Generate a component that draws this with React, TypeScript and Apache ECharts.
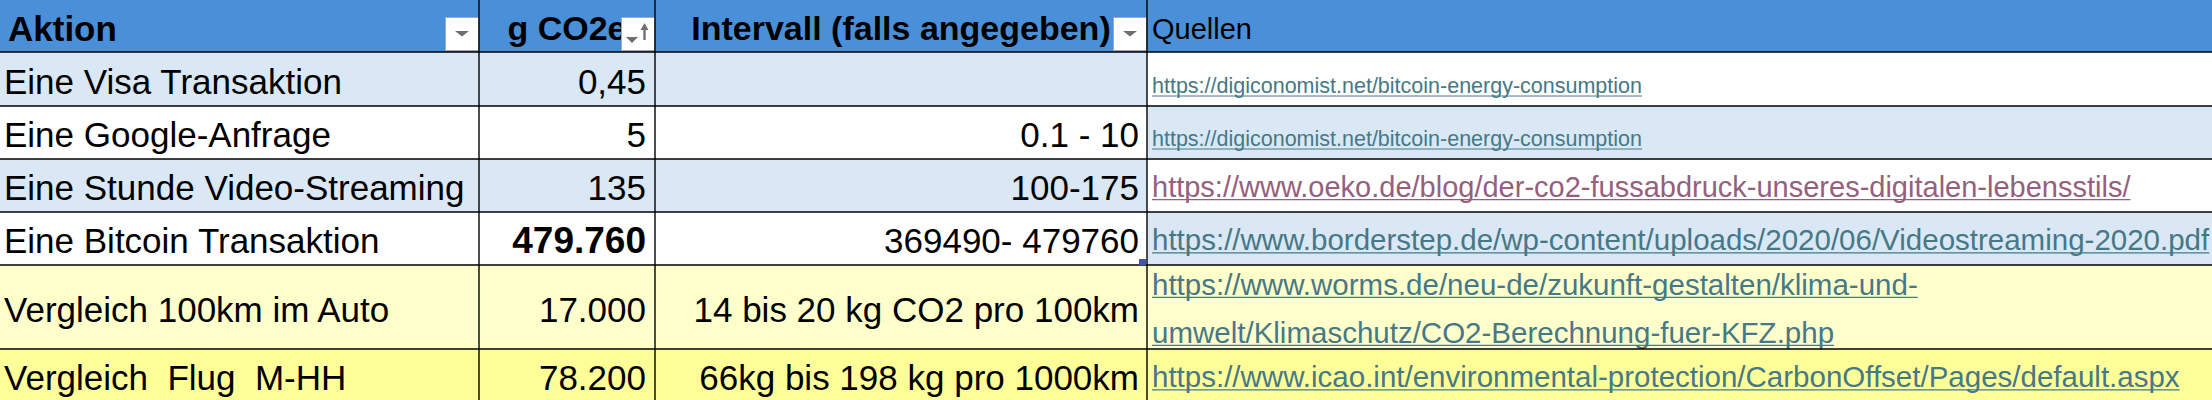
import { useEffect, useRef } from "react";
import * as echarts from "echarts";

// table content
const headers = ["Aktion", "g CO2e", "Intervall (falls angegeben)", "Quellen"];
const actions = [
	"Eine Visa Transaktion",
	"Eine Google-Anfrage",
	"Eine Stunde Video-Streaming",
	"Eine Bitcoin Transaktion",
	"Vergleich 100km im Auto",
	"Vergleich  Flug  M-HH",
];
const co2Grams = [0.45, 5, 135, 479760, 17000, 78200];
const intervals = [
	"",
	"0.1 - 10",
	"100-175",
	"369490- 479760",
	"14 bis 20 kg CO2 pro 100km",
	"66kg bis 198 kg pro 1000km",
];
const sources = [
	"https://digiconomist.net/bitcoin-energy-consumption",
	"https://digiconomist.net/bitcoin-energy-consumption",
	"https://www.oeko.de/blog/der-co2-fussabdruck-unseres-digitalen-lebensstils/",
	"https://www.borderstep.de/wp-content/uploads/2020/06/Videostreaming-2020.pdf",
	"https://www.worms.de/neu-de/zukunft-gestalten/klima-und-\numwelt/Klimaschutz/CO2-Berechnung-fuer-KFZ.php",
	"https://www.icao.int/environmental-protection/CarbonOffset/Pages/default.aspx",
];
const visitedLinks = [false, false, true, false, false, false];
const boldValues = [false, false, false, true, false, false];

// layout + styles
const colEdges = [0, 479, 655, 1147, 2212];
const rowEdges = [0, 52, 106, 159, 212, 265, 349, 402];
const rowFill = ["#dae8f6", "#ffffff", "#dae8f6", "#ffffff", "#ffffcc", "#ffff99"];
const sourceFill = ["#ffffff", "#dae8f6", "#ffffff", "#dae8f6", "#ffffcc", "#ffff99"];
const linkSize = [21.5, 21.5, 29, 29.5, 29.5, 29.5];

const FONT = "'Liberation Sans', Arial, Helvetica, sans-serif";
const HEADER_BLUE = "#4a90d9";
const LINK = "#467886";
const LINK_VISITED = "#96607d";
const MAIN_SIZE = 35;
const HEADER_SIZE = 34;

const numberFormat = new Intl.NumberFormat("de-DE", { maximumFractionDigits: 2 });

let measureCtx: CanvasRenderingContext2D | null = null;
const textWidth = (text: string, size: number, weight = "normal") => {
	if (!measureCtx) measureCtx = document.createElement("canvas").getContext("2d");
	if (!measureCtx) return text.length * size * 0.5;
	measureCtx.font = `${weight} ${size}px ${FONT}`;
	return measureCtx.measureText(text).width;
};

const txt = (text: string, x: number, y: number, opts: any = {}) => ({
	type: "text",
	z2: 5,
	style: {
		text,
		x,
		y,
		fill: opts.fill ?? "#000",
		fontSize: opts.size ?? MAIN_SIZE,
		fontFamily: FONT,
		fontWeight: opts.weight ?? "normal",
		align: opts.align ?? "left",
		verticalAlign: "middle",
	},
});

const filterButton = (right: number, sorted: boolean) => {
	const x = right - 34;
	const els: any[] = [
		{
			type: "rect",
			z2: 8,
			shape: { x: x + 0.5, y: 17.5, width: 33, height: 33 },
			style: { fill: "#ffffff", stroke: "#a8a8a8", lineWidth: 1 },
		},
	];
	if (sorted) {
		els.push(
			{ type: "polygon", z2: 9, shape: { points: [[x + 5, 37], [x + 17, 37], [x + 11, 43]] }, style: { fill: "#707070" } },
			{ type: "polygon", z2: 9, shape: { points: [[x + 19.5, 30], [x + 27.5, 30], [x + 23.5, 23]] }, style: { fill: "#707070" } },
			{ type: "rect", z2: 9, shape: { x: x + 22.3, y: 29, width: 2.4, height: 11 }, style: { fill: "#707070" } },
		);
	} else {
		els.push({
			type: "polygon",
			z2: 9,
			shape: { points: [[x + 10, 31], [x + 24, 31], [x + 17, 36.5]] },
			style: { fill: "#707070" },
		});
	}
	return els;
};

const App = () => {
	const chartElementRef = useRef<HTMLDivElement | null>(null);

	useEffect(() => {
		if (!chartElementRef.current) return;
		const chart = echarts.init(chartElementRef.current, null, { renderer: "svg" });

		const renderItem = (_params: any, api: any) => {
			const r = api.value(0) as number;
			const top = rowEdges[r];
			const bottom = rowEdges[r + 1];
			const [, yTop] = api.coord([0, top]);
			const [, yBottom] = api.coord([0, bottom]);
			const xs = colEdges.map((c) => api.coord([c, 0])[0]);
			const mid = (yTop + yBottom) / 2;
			const children: any[] = [];

			// cell backgrounds
			for (let c = 0; c < 4; c++) {
				const fill = r === 0 ? HEADER_BLUE : c === 3 ? sourceFill[r - 1] : rowFill[r - 1];
				children.push({
					type: "rect",
					z2: 0,
					shape: { x: xs[c], y: yTop, width: xs[c + 1] - xs[c], height: yBottom - yTop },
					style: { fill },
				});
			}

			if (r === 0) {
				const y = mid + 2;
				children.push(txt(headers[0], xs[0] + 8, y, { weight: "bold", size: HEADER_SIZE + 1 }));
				children.push(txt(headers[1], (xs[1] + xs[2]) / 2, y, { weight: "bold", align: "center", size: HEADER_SIZE }));
				children.push(txt(headers[2], (xs[2] + xs[3]) / 2, y, { weight: "bold", align: "center", size: HEADER_SIZE }));
				children.push(txt(headers[3], xs[3] + 5, y + 1, { size: 29 }));
				children.push(...filterButton(xs[1], false), ...filterButton(xs[2], true), ...filterButton(xs[3], false));
			} else {
				const i = r - 1;
				const y = mid + 2;
				children.push(txt(actions[i], xs[0] + 4, y));
				children.push(
					txt(numberFormat.format(co2Grams[i]), xs[2] - 9, y, {
						align: "right",
						weight: boldValues[i] ? "bold" : "normal",
						size: boldValues[i] ? 37 : MAIN_SIZE,
					}),
				);
				if (intervals[i]) children.push(txt(intervals[i], xs[3] - 8, y, { align: "right" }));

				// link, possibly wrapped
				const size = linkSize[i];
				const color = visitedLinks[i] ? LINK_VISITED : LINK;
				const lines = sources[i].split("\n");
				const lineGap = 48;
				const small = size < 25;
				const baseY = small ? yBottom - 20 : mid + 1 - ((lines.length - 1) * lineGap) / 2;
				lines.forEach((line, k) => {
					const ly = baseY + k * lineGap;
					const lx = xs[3] + 5;
					children.push(txt(line, lx, ly, { size, fill: color }));
					const w = textWidth(line, size);
					const uy = ly + size * 0.35 + (small ? 2.5 : 3);
					children.push({
						type: "line",
						z2: 6,
						shape: { x1: lx, y1: uy, x2: lx + w, y2: uy },
						style: { stroke: color, lineWidth: small ? 1 : 1.4 },
					});
				});
			}

			// borders
			if (r < rowEdges.length - 2) {
				children.push({
					type: "line",
					z2: 10,
					shape: { x1: xs[0], y1: yBottom, x2: xs[4], y2: yBottom },
					style: { stroke: "#000", lineWidth: 1.6 },
				});
			}
			for (let c = 1; c < 4; c++) {
				children.push({
					type: "line",
					z2: 10,
					shape: { x1: xs[c], y1: yTop, x2: xs[c], y2: yBottom },
					style: { stroke: "#000", lineWidth: 1.4 },
				});
			}
			// table resize handle
			if (r === 4) {
				children.push({
					type: "rect",
					z2: 11,
					shape: { x: xs[3] - 8, y: yBottom - 6, width: 7, height: 6 },
					style: { fill: "#4254ad" },
				});
			}
			return { type: "group", children };
		};

		chart.setOption({
			animation: false,
			grid: { left: 0, right: 0, top: 0, bottom: 0 },
			xAxis: { type: "value", min: 0, max: 2212, show: false },
			yAxis: { type: "value", min: 0, max: 400, inverse: true, show: false },
			series: [
				{
					type: "custom",
					coordinateSystem: "cartesian2d",
					clip: false,
					silent: true,
					renderItem,
					data: [headers, ...actions].map((_, i) => [i, 0]),
				},
			],
		});

		return () => chart.dispose();
	}, []);

	return (
		<div
			ref={chartElementRef}
			style={{ position: "absolute", left: 0, top: 0, width: 2212, height: 400, background: "#fff" }}
		/>
	);
};

export default App;
